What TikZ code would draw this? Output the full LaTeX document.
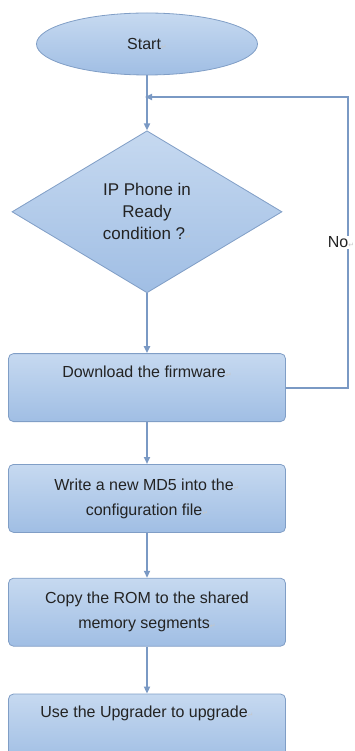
\documentclass[tikz,border=0pt]{standalone}
\usepackage{fontspec}
\setmainfont{Liberation Sans}
\newfontfamily\symfont{DejaVu Sans}
\usetikzlibrary{shapes.geometric, arrows.meta, positioning}

\definecolor{boxTop}{RGB}{198,217,240}
\definecolor{boxBottom}{RGB}{160,190,228}
\definecolor{boxLine}{RGB}{128,158,198}
\definecolor{flowLine}{RGB}{122,153,196}
\definecolor{labelText}{RGB}{35,35,35}

% Word paragraph mark after each text
\newcommand{\pmark}{{\color{gray!45}\symfont\fontsize{7}{7}\selectfont ↵}}

\begin{document}
\begin{tikzpicture}[
    x=1pt, y=-1pt,
    >={Triangle[width=6pt,length=7pt]},
    % shared look of all shapes
    shapebox/.style={draw=boxLine, line width=0.8pt, top color=boxTop, bottom color=boxBottom,
        text=labelText, align=center, font=\fontsize{16}{25}\selectfont},
    startnode/.style={shapebox, ellipse, minimum width=221pt, minimum height=62pt, inner sep=0pt},
    decision/.style={shapebox, diamond, aspect=1.667, minimum width=270pt, minimum height=162pt,
        inner sep=0pt, font=\fontsize{17}{22}\selectfont},
    process/.style={shapebox, rectangle, rounded corners=5pt, minimum width=277pt, minimum height=68pt},
    flow/.style={->, draw=flowLine, line width=1.8pt}
]
\useasboundingbox (0,0) rectangle (355,751);

% 1. nodes
\node [startnode] (start) at (147,44) {Start\pmark};
\node [decision, below=55pt of start] (ready) {IP Phone in\\Ready\\condition ?\pmark};
\node [process, below=60pt of ready] (download) {Download the firmware\pmark\\\strut};
\node [process, below=42pt of download] (writeMD) {Write a new MD5 into the\pmark\\configuration file\pmark};
\node [process, below=45pt of writeMD] (copyROM) {Copy the ROM to the shared\\memory segments\pmark};
\node [process, below=47pt of copyROM] (upgrade) {Use the Upgrader to upgrade\pmark\\\strut};

\coordinate (join) at (start.south |- 0,97);
\coordinate (loopTop) at (348,97);

% 2. connectors
\draw [flow] (start) -- (ready);
\draw [flow] (ready) -- (download);
\draw [flow] (download) -- (writeMD);
\draw [flow] (writeMD) -- (copyROM);
\draw [flow] (copyROM) -- (upgrade);

% 3. loop back when not ready
\draw [flow, shorten >=-2pt] (download.east) -| node[pos=0.75, fill=white, text=labelText,
    inner sep=1pt, xshift=-7pt, font=\fontsize{16}{16}\selectfont] (noLabel) {No\pmark} (loopTop) -- (join);

\end{tikzpicture}
\end{document}
